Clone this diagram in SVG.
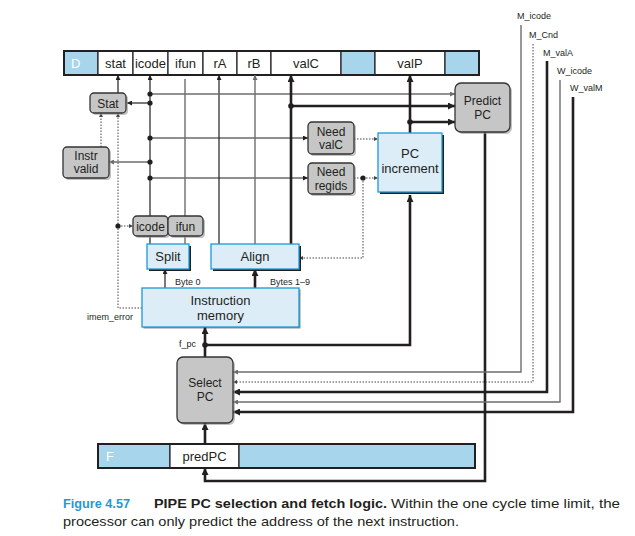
<svg xmlns="http://www.w3.org/2000/svg" width="635" height="536" viewBox="0 0 635 536">
  <style>
    text { font-family: "Liberation Sans", Arial, sans-serif; fill: #231f20; }
    .reg { fill: #fff; stroke: #231f20; stroke-width: 1.2; }
    .regb { fill: #a6d5ec; stroke: #231f20; stroke-width: 1.2; }
    .regframe { fill: none; stroke: #231f20; stroke-width: 2; }
    .rt { font-size: 13px; text-anchor: middle; }
    .rl { font-size: 13px; fill: #fff; }
    .gbox { fill: #c6c6c6; stroke: #333; stroke-width: 1.3; }
    .gsh { fill: #999; opacity: 0.6; }
    .bbox { fill: #ddedf8; stroke: #1a9ad6; stroke-width: 1.3; }
    .bsh { fill: #231f20; }
    .gt { font-size: 12px; text-anchor: middle; }
    .bt { font-size: 13px; text-anchor: middle; }
    .sm { font-size: 9px; }
    .k { fill: none; stroke: #231f20; stroke-width: 1.2; }
    .g { fill: none; stroke: #6d6d6d; stroke-width: 1.4; }
    .K { fill: none; stroke: #231f20; stroke-width: 2.6; }
    .d { fill: none; stroke: #444; stroke-width: 1; stroke-dasharray: 1.5 1.5; }
    .dot { fill: #231f20; }
  </style>
  <defs>
    <marker id="ak" viewBox="0 0 10 10" refX="10" refY="5" markerWidth="6" markerHeight="5" markerUnits="userSpaceOnUse" orient="auto">
      <path d="M0,0 L10,5 L0,10 z" fill="#231f20"/>
    </marker>
    <marker id="ag" viewBox="0 0 10 10" refX="10" refY="5" markerWidth="6" markerHeight="5" markerUnits="userSpaceOnUse" orient="auto">
      <path d="M0,0 L10,5 L0,10 z" fill="#6d6d6d"/>
    </marker>
    <marker id="aK" viewBox="0 0 10 10" refX="10" refY="5" markerWidth="8" markerHeight="7" markerUnits="userSpaceOnUse" orient="auto">
      <path d="M0,0 L10,5 L0,10 z" fill="#231f20"/>
    </marker>
    <marker id="ad" viewBox="0 0 10 10" refX="10" refY="5" markerWidth="5" markerHeight="4" markerUnits="userSpaceOnUse" orient="auto">
      <path d="M0,0 L10,5 L0,10 z" fill="#444"/>
    </marker>
  </defs>

  <!-- D pipeline register -->
  <g id="regD">
    <rect class="regb" x="64" y="51" width="34" height="24"/>
    <rect class="reg" x="98" y="51" width="35" height="24"/>
    <rect class="reg" x="133" y="51" width="35" height="24"/>
    <rect class="reg" x="168" y="51" width="35" height="24"/>
    <rect class="reg" x="203" y="51" width="34" height="24"/>
    <rect class="reg" x="237" y="51" width="34" height="24"/>
    <rect class="reg" x="271" y="51" width="70" height="24"/>
    <rect class="regb" x="341" y="51" width="34" height="24"/>
    <rect class="reg" x="375" y="51" width="70" height="24"/>
    <rect class="regb" x="445" y="51" width="34" height="24"/>
    <rect class="regframe" x="64" y="51" width="415" height="24"/>
    <text class="rl" x="71" y="68">D</text>
    <text class="rt" x="115.5" y="68">stat</text>
    <text class="rt" x="150.5" y="68">icode</text>
    <text class="rt" x="185.5" y="68">ifun</text>
    <text class="rt" x="220" y="68">rA</text>
    <text class="rt" x="254" y="68">rB</text>
    <text class="rt" x="306" y="68">valC</text>
    <text class="rt" x="410" y="68">valP</text>
  </g>

  <!-- F pipeline register -->
  <g id="regF">
    <rect class="regb" x="98" y="444" width="72" height="24"/>
    <rect class="reg" x="170" y="444" width="69" height="24"/>
    <rect class="regb" x="239" y="444" width="236" height="24"/>
    <rect class="regframe" x="98" y="444" width="377" height="24"/>
    <text class="rl" x="106" y="461">F</text>
    <text class="rt" x="204.5" y="461">predPC</text>
  </g>

  <!-- connectors -->
  <g id="wires">
    <!-- thin black -->
    <path class="k" d="M118,93 V75" marker-end="url(#ak)"/>
    <path class="k" d="M150,244 V75" marker-end="url(#ak)"/>
    <path class="k" d="M219,244 V75" marker-end="url(#ak)"/>
    <path class="k" d="M150,103 H127" marker-end="url(#ak)"/>
    <path class="k" d="M150,138 H308" marker-end="url(#ak)"/>
    <path class="k" d="M150,178 H308" marker-end="url(#ak)"/>
    <path class="k" d="M165,288 V269" marker-end="url(#ak)"/>
    <!-- thin grey -->
    <path class="g" d="M185,244 V79"/>
    <path class="g" d="M255,244 V75" marker-end="url(#ag)"/>
    <path class="g" d="M150,94 H455" marker-end="url(#ag)"/>
    <path class="g" d="M150,162 H109" marker-end="url(#ag)"/>
    <!-- thick -->
    <path class="K" d="M291,244 V75" marker-end="url(#aK)"/>
    <path class="K" d="M291,106 H455" marker-end="url(#aK)"/>
    <path class="K" d="M410,133 V75" marker-end="url(#aK)"/>
    <path class="K" d="M410,122 H455" marker-end="url(#aK)"/>
    <path class="K" d="M255,288 V269" marker-end="url(#aK)"/>
    <path class="K" d="M205,357 V327" marker-end="url(#aK)"/>
    <path class="K" d="M205,345 H410 V195" marker-end="url(#aK)"/>
    <path class="K" d="M205,444 V423" marker-end="url(#aK)"/>
    <path class="K" d="M485,132 V481 H205 V468" marker-end="url(#aK)"/>
    <!-- dotted control signals -->
    <path class="d" d="M142,308 H118 V113" marker-end="url(#ad)"/>
    <path class="d" d="M118,226 H133" marker-end="url(#ad)"/>
    <path class="d" d="M101,147 V113" marker-end="url(#ad)"/>
    <path class="d" d="M354,139 H378" marker-end="url(#ad)"/>
    <path class="d" d="M354,178 H378" marker-end="url(#ad)"/>
    <path class="d" d="M363,178 V258 H299" marker-end="url(#ad)"/>
    <!-- forwarded signals into Select PC -->
    <path class="g" d="M521,25 V372 H233" marker-end="url(#ag)"/>
    <path class="d" d="M533,44 V382 H233" marker-end="url(#ad)"/>
    <path class="K" d="M547,61 V392 H233" marker-end="url(#aK)"/>
    <path class="g" d="M560,80 V402 H233" marker-end="url(#ag)"/>
    <path class="K" d="M573,97 V412 H233" marker-end="url(#aK)"/>
    <!-- junction dots -->
    <circle class="dot" cx="150" cy="94" r="2.6"/>
    <circle class="dot" cx="150" cy="103" r="2.6"/>
    <circle class="dot" cx="150" cy="138" r="2.6"/>
    <circle class="dot" cx="150" cy="162" r="2.6"/>
    <circle class="dot" cx="150" cy="178" r="2.6"/>
    <circle class="dot" cx="291" cy="106" r="2.8"/>
    <circle class="dot" cx="410" cy="122" r="2.8"/>
    <circle class="dot" cx="118" cy="226" r="2.6"/>
    <circle class="dot" cx="363" cy="178" r="2.6"/>
    <circle class="dot" cx="205" cy="345" r="2.8"/>
  </g>

  <!-- signal labels -->
  <g id="labels">
    <text class="sm" x="517" y="19">M_icode</text>
    <text class="sm" x="529" y="38">M_Cnd</text>
    <text class="sm" x="543" y="56">M_valA</text>
    <text class="sm" x="557" y="74">W_icode</text>
    <text class="sm" x="570" y="91">W_valM</text>
    <text class="sm" x="175" y="285">Byte 0</text>
    <text class="sm" x="270" y="285">Bytes 1–9</text>
    <text class="sm" x="87" y="320">imem_error</text>
    <text class="sm" x="179" y="347">f_pc</text>
  </g>

  <!-- control logic blocks -->
  <g id="stat">
    <rect class="gsh" x="92" y="95" width="36" height="20" rx="4"/>
    <rect class="gbox" x="90" y="93" width="36" height="20" rx="4"/>
    <text class="gt" x="108" y="107.5">Stat</text>
  </g>
  <g id="instrValid">
    <rect class="gsh" x="65" y="149" width="46" height="31" rx="4"/>
    <rect class="gbox" x="63" y="147" width="46" height="31" rx="4"/>
    <text class="gt" x="86" y="160">Instr</text>
    <text class="gt" x="86" y="173">valid</text>
  </g>
  <g id="icodeBox">
    <rect class="gsh" x="135" y="218" width="35" height="20" rx="4"/>
    <rect class="gbox" x="133" y="216" width="35" height="20" rx="4"/>
    <text class="gt" x="150.5" y="230.5">icode</text>
  </g>
  <g id="ifunBox">
    <rect class="gsh" x="170" y="218" width="35" height="20" rx="4"/>
    <rect class="gbox" x="168" y="216" width="35" height="20" rx="4"/>
    <text class="gt" x="185.5" y="230.5">ifun</text>
  </g>
  <g id="needValC">
    <rect class="gsh" x="310" y="124" width="46" height="32" rx="4"/>
    <rect class="gbox" x="308" y="122" width="46" height="32" rx="4"/>
    <text class="gt" x="331" y="135.5">Need</text>
    <text class="gt" x="331" y="149">valC</text>
  </g>
  <g id="needRegids">
    <rect class="gsh" x="310" y="165" width="46" height="31" rx="4"/>
    <rect class="gbox" x="308" y="163" width="46" height="31" rx="4"/>
    <text class="gt" x="331" y="176">Need</text>
    <text class="gt" x="331" y="189.5">regids</text>
  </g>
  <g id="predictPC">
    <rect class="gsh" x="457" y="85" width="55" height="49" rx="6"/>
    <rect class="gbox" x="455" y="83" width="55" height="49" rx="6"/>
    <text class="gt" x="482.5" y="105">Predict</text>
    <text class="gt" x="482.5" y="119">PC</text>
  </g>
  <g id="selectPC">
    <rect class="gsh" x="179" y="359" width="56" height="66" rx="6"/>
    <rect class="gbox" x="177" y="357" width="56" height="66" rx="6"/>
    <text class="gt" x="205" y="387">Select</text>
    <text class="gt" x="205" y="401">PC</text>
  </g>

  <!-- datapath blocks -->
  <g id="pcIncrement">
    <rect class="bsh" x="380" y="135" width="64" height="59"/>
    <rect class="bbox" x="378" y="133" width="64" height="59"/>
    <text class="bt" x="410" y="158">PC</text>
    <text class="bt" x="410" y="173">increment</text>
  </g>
  <g id="split">
    <rect class="bsh" x="149" y="246" width="42" height="25"/>
    <rect class="bbox" x="147" y="244" width="42" height="25"/>
    <text class="bt" x="168" y="261">Split</text>
  </g>
  <g id="align">
    <rect class="bsh" x="213" y="246" width="88" height="25"/>
    <rect class="bbox" x="211" y="244" width="88" height="25"/>
    <text class="bt" x="255" y="261">Align</text>
  </g>
  <g id="instrMemory">
    <rect class="bsh" x="143.5" y="289.5" width="157" height="39" opacity="0.5"/>
    <rect class="bbox" x="142" y="288" width="157" height="39"/>
    <text class="bt" x="220.5" y="305">Instruction</text>
    <text class="bt" x="220.5" y="320">memory</text>
  </g>

  <!-- caption -->
  <g id="caption">
    <text x="63" y="508" font-size="13.5" font-weight="bold" style="fill:#1b9ad7" textLength="67" lengthAdjust="spacingAndGlyphs">Figure 4.57</text>
    <text x="154" y="508" font-size="13.5" font-weight="bold" textLength="233" lengthAdjust="spacingAndGlyphs">PIPE PC selection and fetch logic.</text>
    <text x="391" y="508" font-size="13.5" textLength="229" lengthAdjust="spacingAndGlyphs">Within the one cycle time limit, the</text>
    <text x="63" y="526" font-size="13.5" textLength="396" lengthAdjust="spacingAndGlyphs">processor can only predict the address of the next instruction.</text>
  </g>
</svg>
